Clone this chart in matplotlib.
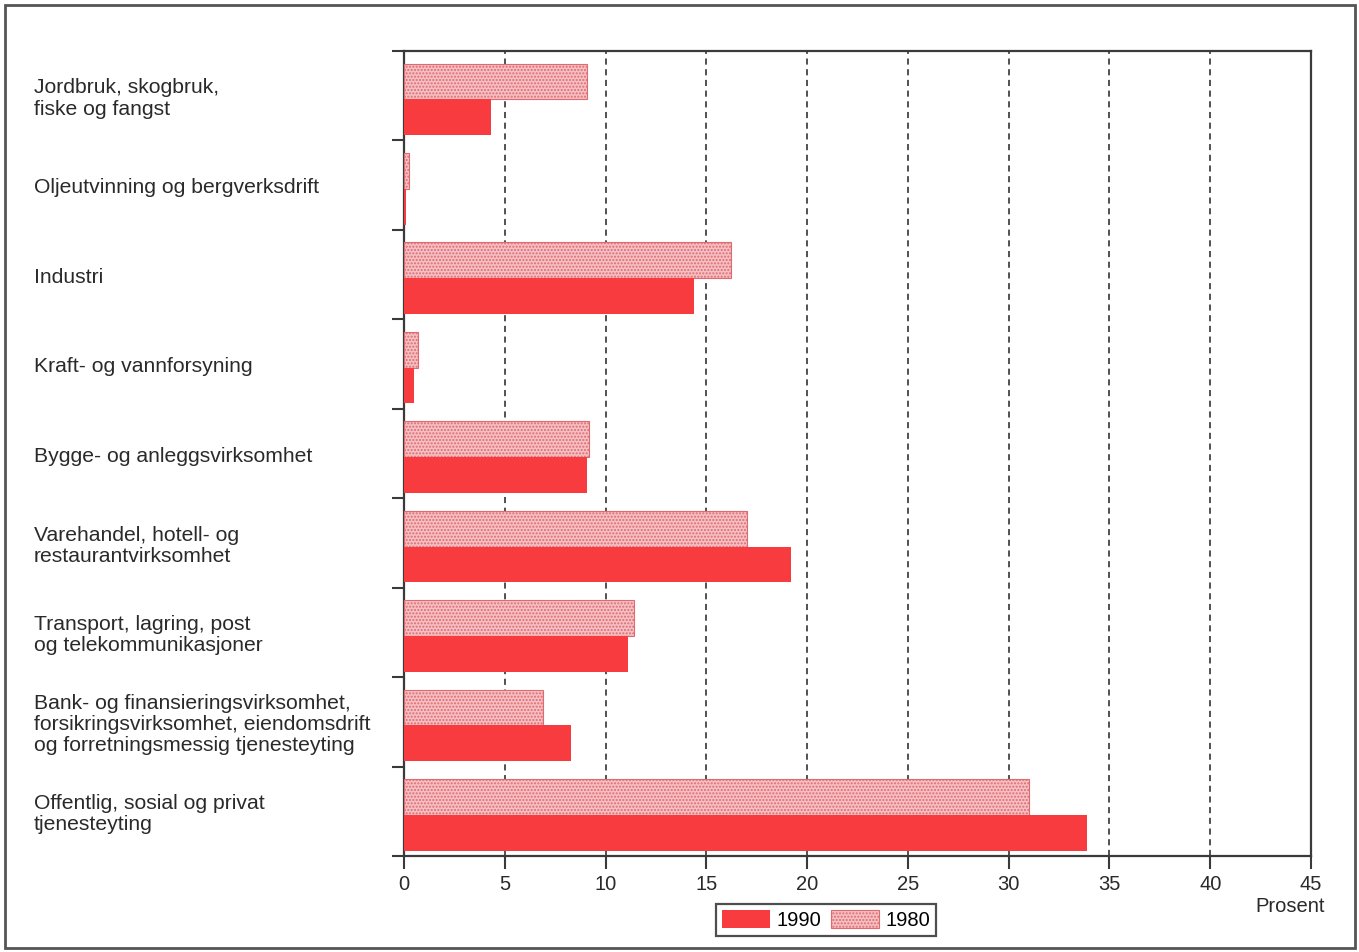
import matplotlib
matplotlib.use("Agg")
import matplotlib.pyplot as plt
from matplotlib.patches import Rectangle, Patch
from matplotlib.transforms import blended_transform_factory

categories = [
    "Jordbruk, skogbruk,\nfiske og fangst",
    "Oljeutvinning og bergverksdrift",
    "Industri",
    "Kraft- og vannforsyning",
    "Bygge- og anleggsvirksomhet",
    "Varehandel, hotell- og\nrestaurantvirksomhet",
    "Transport, lagring, post\nog telekommunikasjoner",
    "Bank- og finansieringsvirksomhet,\nforsikringsvirksomhet, eiendomsdrift\nog forretningsmessig tjenesteyting",
    "Offentlig, sosial og privat\ntjenesteyting",
]
values_1990 = [4.3, 0.1, 14.4, 0.5, 9.1, 19.2, 11.1, 8.3, 33.9]
values_1980 = [9.1, 0.25, 16.2, 0.7, 9.2, 17.0, 11.4, 6.9, 31.0]
xticks = [0, 5, 10, 15, 20, 25, 30, 35, 40, 45]

plt.rcParams['font.family'] = ['Liberation Sans', 'DejaVu Sans']
plt.rcParams['hatch.linewidth'] = 1.0

RED = '#f73b3f'
PINK = '#f4c0c3'
PINK_EDGE = '#e06a70'
DARK = '#3a3a3a'
TXT = '#2a2a2a'

fig = plt.figure(figsize=(13.59, 9.52), dpi=100)
ax = fig.add_axes([404/1359, 1-856/952, (1311-404)/1359, (856-51)/952])

n = len(categories)
pos = list(range(n))
h = 0.4
ax.barh([p - 0.16 for p in pos], values_1980, height=h, left=0,
        facecolor=PINK, edgecolor=PINK_EDGE, hatch='.....', linewidth=0.8, zorder=3)
ax.barh([p + 0.24 for p in pos], values_1990, height=h, left=0,
        color=RED, linewidth=0, zorder=3)

ax.set_xlim(0, 45)
ax.set_ylim(n - 0.5, -0.5)
ax.set_xticks(xticks)
ax.set_xticklabels([str(t) for t in xticks], fontsize=14.5, color=TXT)
ax.set_yticks([i - 0.5 for i in range(n + 1)])
ax.set_yticklabels([])
ax.tick_params(axis='both', direction='out', length=9, width=1.5, color=DARK)
ax.tick_params(axis='x', pad=5)

for x in xticks[1:-1]:
    ax.axvline(x, color='#222222', linestyle=(0, (4, 3)), linewidth=1.1, zorder=1)

for s in ax.spines.values():
    s.set_color(DARK)
    s.set_linewidth(1.6)

trans = blended_transform_factory(fig.transFigure, ax.transData)
for i, lab in enumerate(categories):
    ax.text(34/1359, i + 0.03, lab, transform=trans, ha='left', va='center',
            fontsize=15.2, color=TXT, linespacing=1.15)

fig.text(1325/1359, 1-906/952, "Prosent", ha='right', va='center',
         fontsize=14.5, color=TXT)

handles = [Patch(facecolor=RED, edgecolor='none'),
           Patch(facecolor=PINK, edgecolor=PINK_EDGE, hatch='.....', linewidth=0.8)]
leg = fig.legend(handles, ['1990', '1980'], loc='center',
                 bbox_to_anchor=(826/1359, 1-920/952), ncol=2,
                 fontsize=14.5, frameon=True, fancybox=False,
                 handlelength=2.4, handleheight=1.0, handletextpad=0.3,
                 columnspacing=0.5, borderpad=0.3, borderaxespad=0)
leg.get_frame().set_edgecolor('#222222')
leg.get_frame().set_linewidth(1.6)

fig.patches.append(Rectangle((5/1359, 1-948/952), 1350/1359, 943/952,
                             transform=fig.transFigure, fill=False,
                             edgecolor='#555555', linewidth=2))

fig.savefig("out.png", dpi=100)
